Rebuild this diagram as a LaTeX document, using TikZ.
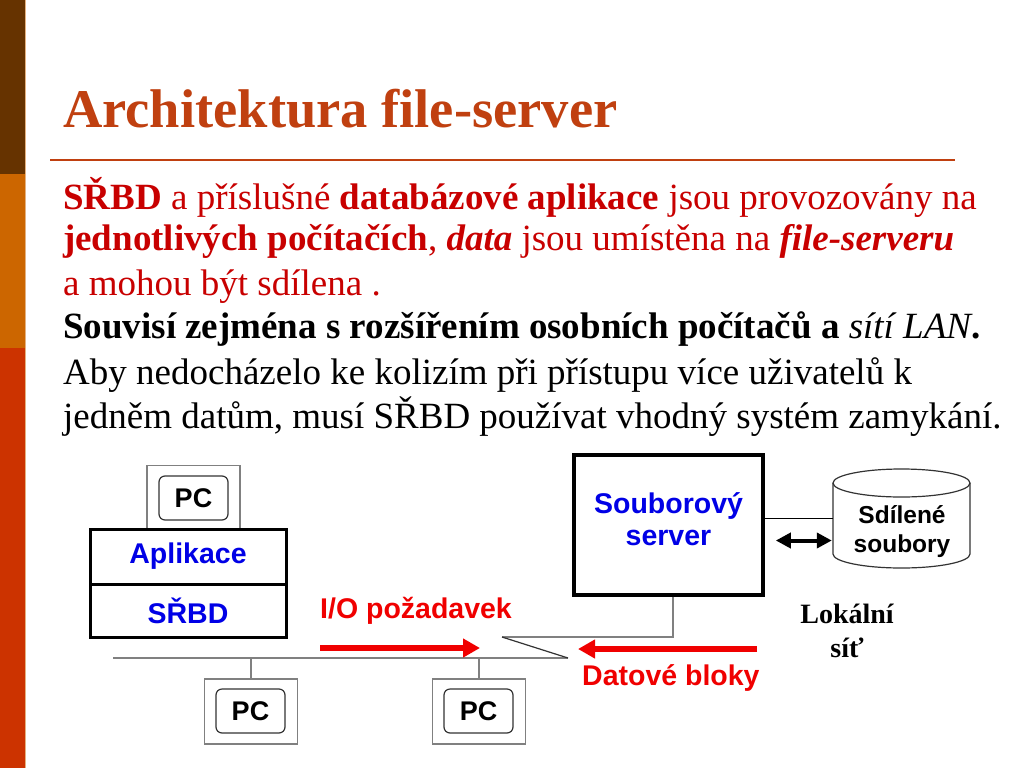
\documentclass[tikz,border=0pt]{standalone}
\usepackage{fontspec}
\setmainfont{Liberation Serif}
\setsansfont{Liberation Sans}
\usetikzlibrary{arrows.meta,calc}
\definecolor{barbrown}{RGB}{102,51,0}
\definecolor{barorange}{RGB}{204,102,0}
\definecolor{barred}{RGB}{204,51,0}
\definecolor{titlecol}{RGB}{192,64,16}
\definecolor{bodyred}{RGB}{200,0,0}
\definecolor{lblblue}{RGB}{0,0,230}
\definecolor{lblred}{RGB}{240,0,0}
\definecolor{netgray}{RGB}{128,128,128}
\tikzset{
  bodyline/.style={anchor=base west, inner sep=0pt, font=\fontsize{37}{42}\selectfont},
  outerbox/.style={draw=netgray, line width=1.3pt, minimum width=93pt, minimum height=64pt, inner sep=0pt},
  pcbox/.style={draw=black!80, line width=1.2pt, rounded corners=6pt, minimum width=69pt, minimum height=44pt, inner sep=0pt, font=\sffamily\bfseries\fontsize{27}{30}\selectfont},
  layerbox/.style={draw=black, line width=3pt, minimum width=196pt, inner sep=0pt, font=\sffamily\bfseries\fontsize{28.5}{32}\selectfont, text=lblblue},
  net/.style={draw=netgray, line width=1.5pt},
  redlbl/.style={anchor=west, inner sep=0pt, text=lblred, font=\sffamily\bfseries\fontsize{28.5}{32}\selectfont},
  redarrow/.style={draw=lblred, line width=6pt, -{Triangle[length=17pt,width=18pt]}},
}
\begin{document}
\begin{tikzpicture}[x=1pt,y=-1pt]
\useasboundingbox (0,0) rectangle (1024,768);
\fill[white] (0,0) rectangle (1024,768);
% left bar
\fill[barbrown] (0,0) rectangle (25,174);
\fill[barorange] (0,174) rectangle (25,348);
\fill[barred] (0,348) rectangle (25,768);
\draw[barorange!50, line width=1pt] (25.5,0) -- (25.5,768);
% title
\node[anchor=base west, inner sep=0pt, text=titlecol, font=\bfseries\fontsize{54.5}{60}\selectfont] (title) at (63,127) {Architektura file-server};
\draw[titlecol, line width=2pt] (50,160) -- (955,160);
% body
\node[bodyline, text=bodyred] (l1) at (63,209) {\textbf{SŘBD} a příslušné \textbf{databázové aplikace} jsou provozovány na};
\node[bodyline, text=bodyred] (l2) at (63,250) {\textbf{jednotlivých počítačích}, \textbf{\textit{data}} jsou umístěna na \textbf{\textit{file-serveru}}};
\node[bodyline, text=bodyred] (l3) at (63,295) {a mohou být sdílena .};
\node[bodyline, font=\bfseries\fontsize{37}{42}\selectfont] (l4) at (63,338) {Souvisí zejména s rozšířením osobních počítačů a {\mdseries\itshape sítí LAN}.};
\node[bodyline] (l5) at (63,384) {Aby nedocházelo ke kolizím při přístupu více uživatelů k};
\node[bodyline] (l6) at (63,428) {jedněm datům, musí SŘBD používat vhodný systém zamykání.};
% client PC with layers
\node[outerbox] (pc0o) at (193.5,497.5) {};
\node[pcbox] (pc0) at (193.5,498) {PC};
\node[layerbox, minimum height=55pt] (app) at (188,556.5) {Aplikace};
\node[layerbox, minimum height=53pt] (dbms) at (188,610.5) {SŘBD};
% network
\coordinate (busL) at (113,658);
\coordinate (busR) at (568,658);
\coordinate (jog) at (502,637);
\node[outerbox, minimum height=65pt] (pc1o) at (251,711.5) {};
\node[pcbox] (pc1) at (250.5,711) {PC};
\node[outerbox, minimum height=65pt] (pc2o) at (479,711.5) {};
\node[pcbox] (pc2) at (478.5,711) {PC};
\node[draw=black, line width=3.5pt, minimum width=189pt, minimum height=140pt, inner sep=0pt] (server) at (668.5,525) {};
\node[align=center, inner sep=0pt, text=lblblue, font=\sffamily\bfseries\fontsize{28.5}{32}\selectfont] (servertext) at (668.5,519) {Souborový\\server};
\coordinate (srvdrop) at (673,637);
\draw[net] (srvdrop |- server.south) -- (srvdrop) -- (jog);
\draw[net] (busL) -- (busR);
\draw[net] (dbms.south -| pc0o.south) -- (dbms.south -| pc0o.south |- busL);
\draw[net] (pc1o.north) -- (pc1o.north |- busL);
\draw[net] (pc2o.north) -- (pc2o.north |- busL);
\draw[black!80, line width=1.2pt] (jog) -- (busR);
% shared files cylinder
\node[minimum width=137pt, minimum height=99pt, inner sep=0pt] (files) at (901.5,518.5) {};
\draw[black!80, line width=1.2pt] (833,483) -- (833,554) arc[start angle=180, end angle=360, x radius=68.5pt, y radius=14pt] -- (970,483);
\draw[black!80, line width=1.2pt] (901.5,483) ellipse[x radius=68.5pt, y radius=14pt];
\node[align=center, inner sep=0pt, font=\sffamily\bfseries\fontsize{24.5}{29}\selectfont] (filetext) at (902,532) {Sdílené\\soubory};
\draw[black, line width=1.2pt] (files.west) -- (files.west -| server.east);
\draw[black, line width=4pt, {Triangle[length=15pt,width=15pt]}-{Triangle[length=15pt,width=15pt]}] ([xshift=-1pt,yshift=-22pt]files.west) -- ([xshift=-57pt,yshift=-22pt]files.west);
% labels
\node[align=center, inner sep=0pt, font=\bfseries\fontsize{28}{34}\selectfont] (lan) at (847,631) {Lokální\\síť};
\node[redlbl] (io) at (320,611) {I/O požadavek};
\node[redlbl] (blk) at (582,678) {Datové bloky};
\coordinate (ioA) at (320,648);
\coordinate (ioB) at (480,648);
\coordinate (blkA) at (757,649);
\coordinate (blkB) at (578,649);
\draw[redarrow] (ioA) -- (ioB);
\draw[redarrow] (blkA) -- (blkB);
\end{tikzpicture}
\end{document}
